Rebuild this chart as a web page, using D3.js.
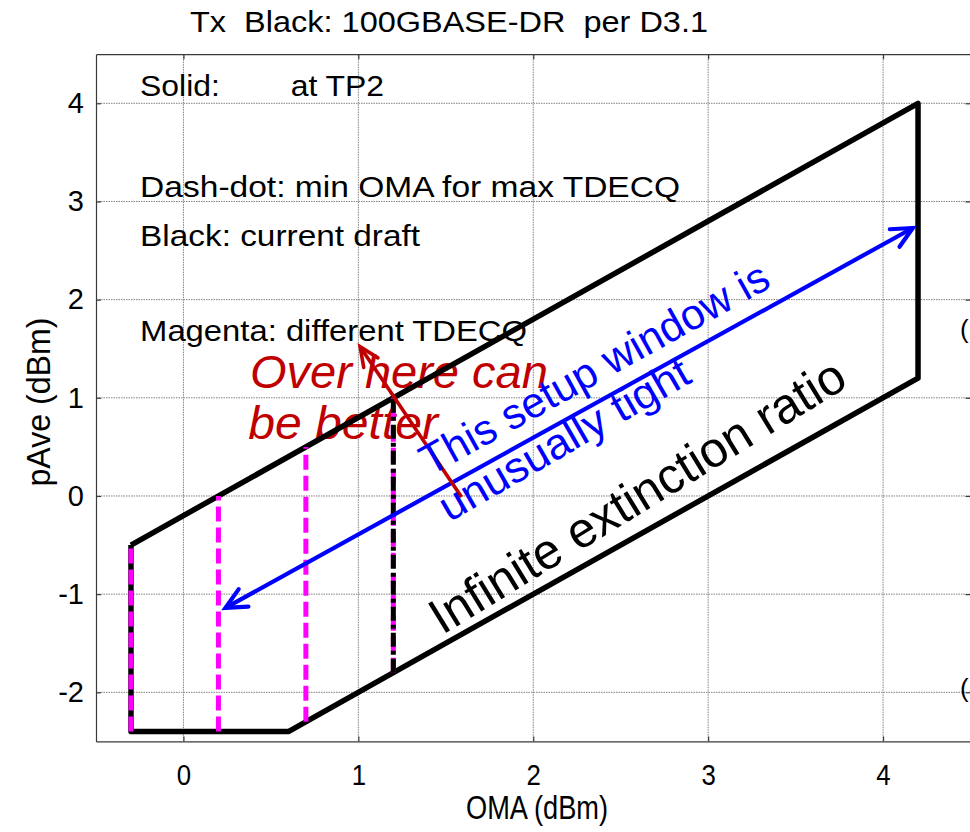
<!DOCTYPE html>
<html>
<head>
<meta charset="utf-8">
<script src="https://cdn.jsdelivr.net/npm/d3@7"></script>
<style>
  html, body { margin: 0; padding: 0; background: #fff; }
  svg { display: block; font-family: "Liberation Sans", Arial, sans-serif; }
  svg text { white-space: pre; }
</style>
</head>
<body>
<svg id="chart" width="970" height="832"></svg>
<script>
// ---------------- data ----------------
const xTicks = [0, 1, 2, 3, 4];
const yTicks = [-2, -1, 0, 1, 2, 3, 4];
const xDomain = [-0.5, 4.5];
const yDomain = [-2.5, 4.5];

// Black solid boundary (current draft), OMA vs pAve
const boundaryOMA  = [-0.3, 4.2, 4.2, 0.6, -0.3, -0.3];
const boundaryPAve = [-0.5, 4.0, 1.2, -2.4, -2.4, -0.5];

// Magenta dashed verticals (different TDECQ)
const magentaOMA  = [-0.3, 0.2, 0.7, 1.2];
const magentaLow  = [-2.4, -2.4, -2.3, -1.8];
const magentaHigh = [-0.5, 0.0, 0.5, 1.0];

// Black dash-dot (min OMA for max TDECQ)
const dashDotOMA  = [1.2];
const dashDotLow  = [-1.8];
const dashDotHigh = [1.0];

// Blue double arrow (OMA, pAve)
const blueArrowOMA  = [0.24, 4.17];
const blueArrowPAve = [-1.14, 2.73];

// Red arrow: tail -> head
const redArrowOMA  = [1.59, 1.01];
const redArrowPAve = [-0.01, 1.52];

// ---------------- layout ----------------
const svg = d3.select("#chart");
const L = 96, R = 970.5, T = 54.2, B = 741.4;
const x = d3.scaleLinear().domain(xDomain).range([L, R]);
const y = d3.scaleLinear().domain(yDomain).range([B, T]);

const gridColor = "#808080";
const axisColor = "#3a3a3a";

// grid
const grid = svg.append("g");
grid.selectAll("line.gx").data(xTicks).join("line")
  .attr("x1", d => x(d)).attr("x2", d => x(d))
  .attr("y1", T).attr("y2", B)
  .attr("stroke", gridColor).attr("stroke-width", 1)
  .attr("stroke-dasharray", "1.5,1");
grid.selectAll("line.gy").data(yTicks).join("line")
  .attr("y1", d => y(d)).attr("y2", d => y(d))
  .attr("x1", L).attr("x2", R)
  .attr("stroke", gridColor).attr("stroke-width", 1)
  .attr("stroke-dasharray", "1.5,1");

// axes
const fmt = d => d3.format("d")(d).replace("−", "-");
const axB = svg.append("g").attr("transform", `translate(0,${B})`)
  .call(d3.axisBottom(x).tickValues(xTicks).tickSizeInner(-5).tickSizeOuter(0).tickPadding(22).tickFormat(fmt));
const axT = svg.append("g").attr("transform", `translate(0,${T})`)
  .call(d3.axisTop(x).tickValues(xTicks).tickSizeInner(-5).tickSizeOuter(0).tickFormat(""));
const axL = svg.append("g").attr("transform", `translate(${L},0)`)
  .call(d3.axisLeft(y).tickValues(yTicks).tickSizeInner(-5).tickSizeOuter(0).tickPadding(12).tickFormat(fmt));
const axR = svg.append("g").attr("transform", `translate(${R},0)`)
  .call(d3.axisRight(y).tickValues(yTicks).tickSizeInner(-5).tickSizeOuter(0).tickFormat(""));
[axB, axT, axL, axR].forEach(a => {
  a.select(".domain").attr("stroke", axisColor).attr("stroke-width", 1.2);
  a.selectAll(".tick line").attr("stroke", axisColor).attr("stroke-width", 1.2);
  a.selectAll("text").attr("fill", "#000").attr("font-family", "Liberation Sans, Arial, sans-serif");
});
axB.selectAll("text").attr("font-size", 30).attr("transform", "scale(0.86,1)");
axL.selectAll("text").attr("font-size", 29);

// title & axis labels
svg.append("text").attr("x", 449).attr("y", 32).attr("text-anchor", "middle")
  .attr("font-size", 30).attr("textLength", 518).attr("lengthAdjust", "spacingAndGlyphs")
  .text("Tx  Black: 100GBASE-DR  per D3.1");
svg.append("text").attr("x", 537).attr("y", 819).attr("text-anchor", "middle")
  .attr("font-size", 33).attr("textLength", 142).attr("lengthAdjust", "spacingAndGlyphs")
  .text("OMA (dBm)");
svg.append("text").attr("transform", "translate(50,402) rotate(-90)").attr("text-anchor", "middle")
  .attr("font-size", 33).attr("textLength", 169).attr("lengthAdjust", "spacingAndGlyphs")
  .text("pAve (dBm)");

// fragments at right edge (neighbouring text, cut by the frame)
svg.append("text").attr("x", 960).attr("y", 338).attr("font-size", 26).text("(");
svg.append("text").attr("x", 960).attr("y", 697).attr("font-size", 26).text("(");

// legend-like annotation text (black)
const ann = [
  {t: "Solid:        at TP2", xv: -0.248, yv: 4.07, len: 244},
  {t: "Dash-dot: min OMA for max TDECQ", xv: -0.248, yv: 3.05, len: 540},
  {t: "Black: current draft", xv: -0.248, yv: 2.55, len: 280},
  {t: "Magenta: different TDECQ", xv: -0.248, yv: 1.58, len: 387}
];
svg.append("g").selectAll("text").data(ann).join("text")
  .attr("x", d => x(d.xv)).attr("y", d => y(d.yv))
  .attr("font-size", 30).attr("textLength", d => d.len).attr("lengthAdjust", "spacingAndGlyphs")
  .text(d => d.t);

// red annotation text
const red = "#c00000";
svg.append("text").attr("x", x(0.38)).attr("y", y(1.1))
  .attr("font-size", 46).attr("font-style", "italic").attr("fill", red)
  .attr("textLength", 298).attr("lengthAdjust", "spacingAndGlyphs").text("Over here can");
svg.append("text").attr("x", x(0.37)).attr("y", y(0.58))
  .attr("font-size", 46).attr("font-style", "italic").attr("fill", red)
  .attr("textLength", 190).attr("lengthAdjust", "spacingAndGlyphs").text("be better");

// boundary polygon
const line = d3.line().x(d => x(d[0])).y(d => y(d[1]));
const boundary = boundaryOMA.map((v, i) => [v, boundaryPAve[i]]);
svg.append("path").attr("d", line(boundary)).attr("fill", "none")
  .attr("stroke", "#000").attr("stroke-width", 5.5).attr("stroke-linejoin", "round");

// magenta dashed
svg.append("g").selectAll("line").data(magentaOMA).join("line")
  .attr("x1", d => x(d)).attr("x2", d => x(d))
  .attr("y1", (d, i) => y(magentaLow[i])).attr("y2", (d, i) => y(magentaHigh[i]))
  .attr("stroke", "#ff00ff").attr("stroke-width", 5)
  .attr("stroke-dasharray", "15,6");

// black dash-dot
svg.append("g").selectAll("line").data(dashDotOMA).join("line")
  .attr("x1", d => x(d)).attr("x2", d => x(d))
  .attr("y1", (d, i) => y(dashDotLow[i])).attr("y2", (d, i) => y(dashDotHigh[i]))
  .attr("stroke", "#000").attr("stroke-width", 5)
  .attr("stroke-dasharray", "14,4,4,4");

// arrows
function arrowHead(g, tip, from, color, w, len, ang) {
  const a = Math.atan2(from[1] - tip[1], from[0] - tip[0]);
  const p1 = [tip[0] + len * Math.cos(a + ang), tip[1] + len * Math.sin(a + ang)];
  const p2 = [tip[0] + len * Math.cos(a - ang), tip[1] + len * Math.sin(a - ang)];
  g.append("path").attr("d", `M${p1[0]},${p1[1]}L${tip[0]},${tip[1]}L${p2[0]},${p2[1]}`)
    .attr("fill", "none").attr("stroke", color).attr("stroke-width", w)
    .attr("stroke-linecap", "round").attr("stroke-linejoin", "miter");
}
const blue = "#0000ff";
const bA = [x(blueArrowOMA[0]), y(blueArrowPAve[0])];
const bB = [x(blueArrowOMA[1]), y(blueArrowPAve[1])];
const ga = svg.append("g");
ga.append("line").attr("x1", bA[0]).attr("y1", bA[1]).attr("x2", bB[0]).attr("y2", bB[1])
  .attr("stroke", blue).attr("stroke-width", 4.2);
arrowHead(ga, bA, bB, blue, 4.2, 23, 0.45);
arrowHead(ga, bB, bA, blue, 4.2, 23, 0.45);

const rA = [x(redArrowOMA[0]), y(redArrowPAve[0])];
const rB = [x(redArrowOMA[1]), y(redArrowPAve[1])];
ga.append("line").attr("x1", rA[0]).attr("y1", rA[1]).attr("x2", rB[0]).attr("y2", rB[1])
  .attr("stroke", red).attr("stroke-width", 3.6);
arrowHead(ga, rB, rA, red, 3.6, 21, 0.42);

// rotated texts
function rotText(t, xv, yv, ang, fs, len, color) {
  svg.append("text")
    .attr("transform", `translate(${x(xv)},${y(yv)}) rotate(${ang})`)
    .attr("font-size", fs).attr("fill", color)
    .attr("textLength", len).attr("lengthAdjust", "spacingAndGlyphs")
    .text(t);
}
rotText("This setup window is", 1.41, 0.2, -29, 43, 392, blue);
rotText("unusually tight", 1.52, -0.27, -30, 43, 282, blue);
rotText("Infinite extinction ratio", 1.48, -1.42, -31.5, 50, 478, "#000");
</script>
</body>
</html>
